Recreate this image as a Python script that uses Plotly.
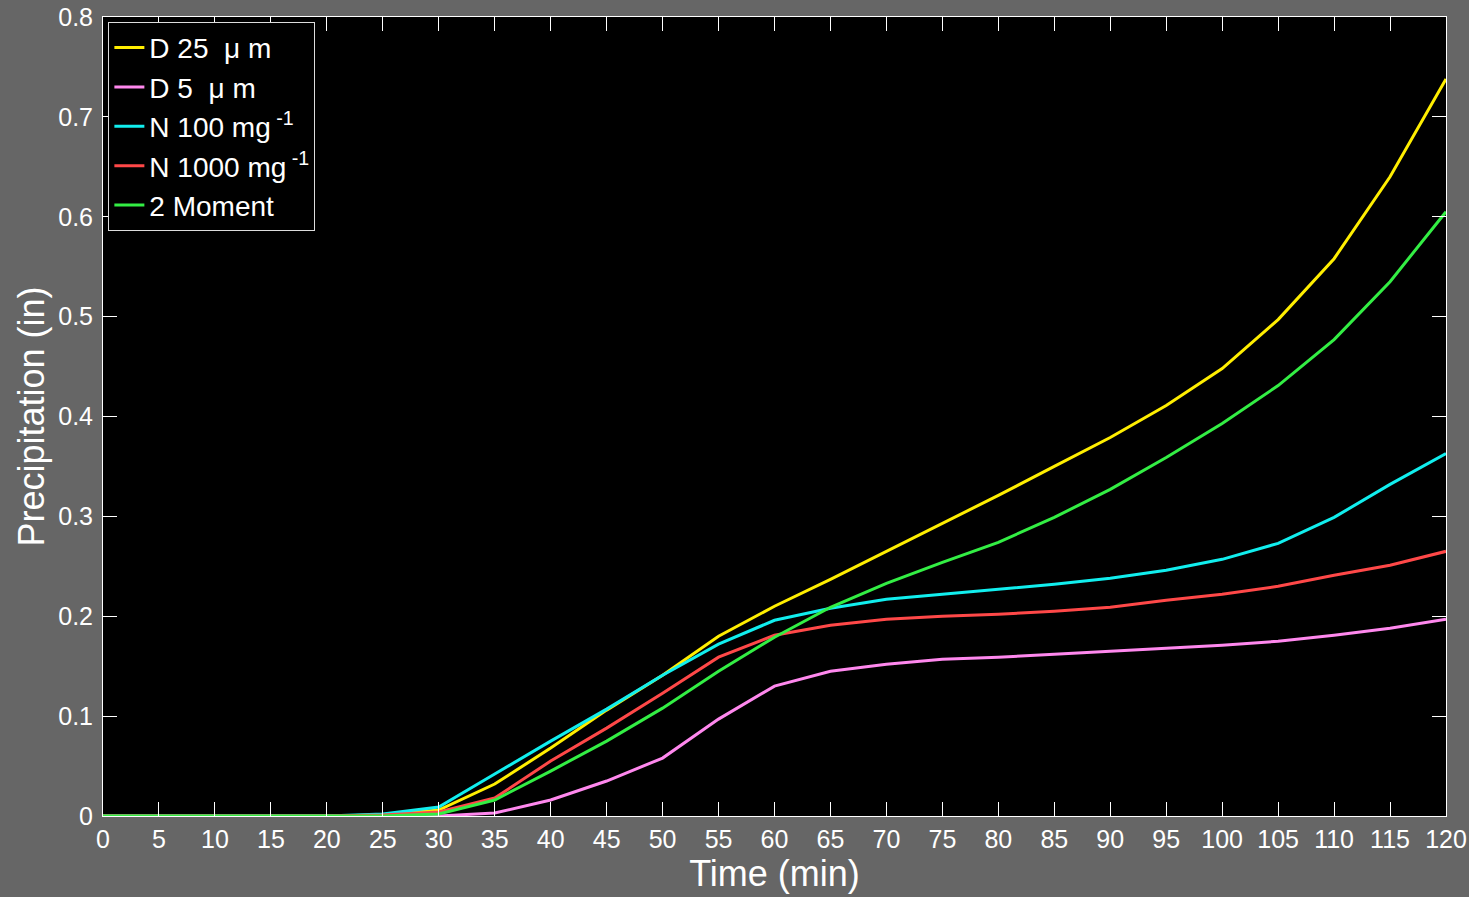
import plotly.graph_objects as go

# Time axis (minutes) and accumulated precipitation (inches) per run
time_min = list(range(0, 125, 5))

d25 = [0, 0, 0, 0, 0, 0.001, 0.006, 0.032, 0.068, 0.106, 0.141, 0.180, 0.210,
       0.237, 0.265, 0.293, 0.321, 0.350, 0.379, 0.411, 0.448, 0.497, 0.558, 0.640, 0.738]
d5 = [0, 0, 0, 0, 0, 0, 0, 0.003, 0.016, 0.035, 0.058, 0.097, 0.130,
      0.145, 0.152, 0.157, 0.159, 0.162, 0.165, 0.168, 0.171, 0.175, 0.181, 0.188, 0.197]
n100 = [0, 0, 0, 0, 0, 0.002, 0.009, 0.042, 0.075, 0.107, 0.141, 0.172, 0.196,
        0.208, 0.217, 0.222, 0.227, 0.232, 0.238, 0.246, 0.257, 0.273, 0.299, 0.332, 0.363]
n1000 = [0, 0, 0, 0, 0, 0.001, 0.004, 0.018, 0.055, 0.088, 0.123, 0.159, 0.181,
         0.191, 0.197, 0.200, 0.202, 0.205, 0.209, 0.216, 0.222, 0.230, 0.241, 0.251, 0.265]
two_moment = [0, 0, 0, 0, 0, 0, 0.002, 0.016, 0.045, 0.075, 0.108, 0.145, 0.179,
              0.209, 0.233, 0.254, 0.274, 0.299, 0.327, 0.359, 0.393, 0.431, 0.477, 0.535, 0.605]

series_names = ["D 25  μ m", "D 5  μ m", "N 100 mg<sup> -1</sup>",
                "N 1000 mg<sup> -1</sup>", "2 Moment"]
series_values = [d25, d5, n100, n1000, two_moment]
series_colors = ["#ffee00", "#ff88ee", "#11eeee", "#ff4848", "#33ee44"]

x_ticks = list(range(0, 125, 5))
y_ticks = [0, 0.1, 0.2, 0.3, 0.4, 0.5, 0.6, 0.7, 0.8]
y_tick_labels = ["0", "0.1", "0.2", "0.3", "0.4", "0.5", "0.6", "0.7", "0.8"]

FONT = "Liberation Sans, Arial, Helvetica, sans-serif"

fig = go.Figure()
for i, (name, vals, col) in enumerate(zip(series_names, series_values, series_colors)):
    fig.add_trace(go.Scatter(
        x=time_min, y=vals, mode="lines", name=name,
        line=dict(color=col, width=3),
        legendgroup=f"g{i}",
    ))

axis_common = dict(
    showline=True, linecolor="white", linewidth=1, mirror="ticks",
    ticks="inside", ticklen=14, tickwidth=1, tickcolor="white",
    showgrid=False, zeroline=False, automargin=False,
    tickfont=dict(family=FONT, size=25, color="white"),
)

fig.update_xaxes(
    range=[0, 120], tickvals=x_ticks, ticktext=[str(v) for v in x_ticks],
    title=dict(text="Time (min)", font=dict(family=FONT, size=36, color="white"), standoff=0),
    ticklabelstandoff=1,
    **axis_common,
)
fig.update_yaxes(
    range=[0, 0.8], tickvals=y_ticks, ticktext=y_tick_labels,
    title=dict(text="Precipitation (in)", font=dict(family=FONT, size=36, color="white"), standoff=2),
    ticklabelstandoff=4,
    **axis_common,
)

fig.update_layout(
    width=1469, height=897,
    margin=dict(l=103, r=23, t=17, b=81, autoexpand=False),
    paper_bgcolor="#666666",
    plot_bgcolor="black",
    showlegend=True,
    legend=dict(
        x=0.004, y=0.994, xanchor="left", yanchor="top",
        bgcolor="black", bordercolor="#dddddd", borderwidth=1,
        font=dict(family=FONT, size=28, color="white"),
        tracegroupgap=0, itemwidth=30,
    ),
)

fig.write_html("out.html")
